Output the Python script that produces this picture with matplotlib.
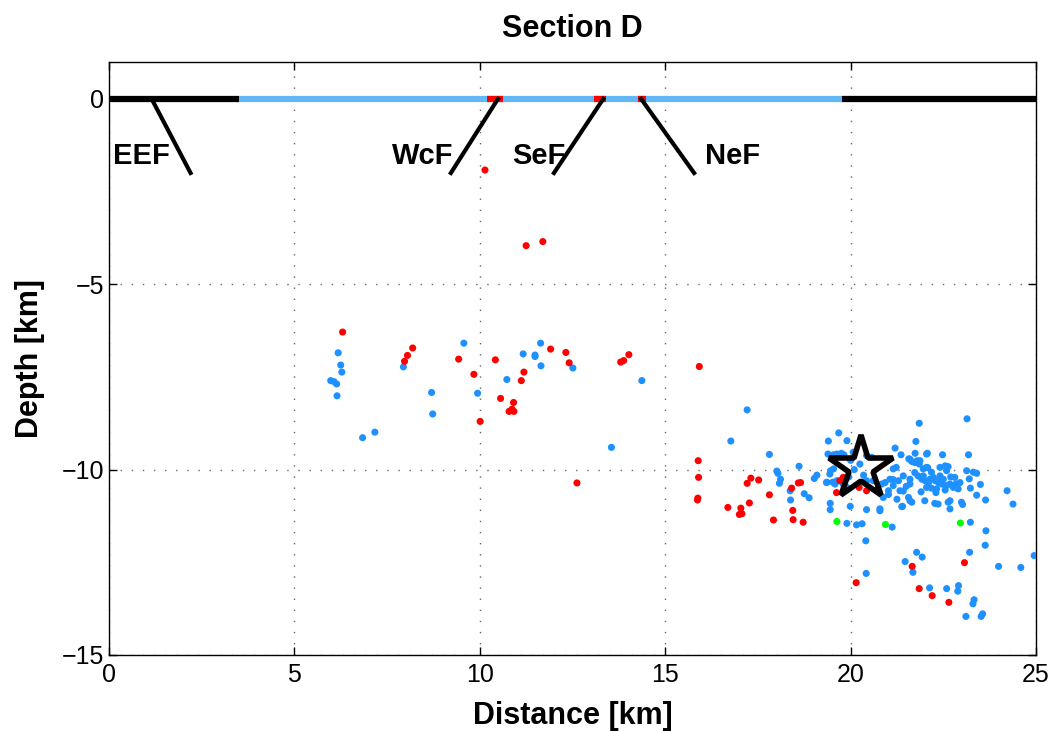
import matplotlib
matplotlib.use("Agg")
import matplotlib.pyplot as plt
import numpy as np

plt.rcParams['font.family'] = ['Liberation Sans', 'DejaVu Sans']

# surface segments along depth 0: (start, end, colour)
surf_start = [0.0, 3.5, 19.76, 10.2, 13.07, 14.27]
surf_end = [3.5, 19.76, 25.0, 10.63, 13.4, 14.48]
surf_color = ['black', '#62B8F6', 'black', 'red', 'red', 'red']

# faults: top x (depth 0), bottom x (depth -2)
fault_names = ['EEF', 'WcF', 'SeF', 'NeF']
fault_top = [1.15, 10.49, 13.33, 14.35]
fault_bot = [2.2, 9.22, 12.0, 15.78]
fault_depth = -2.0

# events (distance km, depth km)
blue_x = [6.18, 6.25, 6.28, 5.98, 6.07, 6.14, 6.15, 6.84, 7.17, 7.94, 8.70, 8.73, 9.57, 9.94,
          10.73, 11.17, 11.49, 11.49, 11.64, 11.65, 12.51, 13.55, 14.37, 17.21, 16.77,
          17.81, 18.01, 18.04, 18.11, 18.08, 18.37, 18.38, 18.61, 18.75, 18.88, 19.02, 19.09,
          19.36, 19.40, 19.68, 19.90, 19.39, 19.54, 19.63, 19.75, 19.82, 19.46, 19.54, 19.52,
          19.63, 19.80, 19.90, 19.45, 19.45, 19.99, 19.90, 20.16, 20.31, 20.43, 20.41, 20.42,
          20.79, 20.79, 21.12, 20.07, 20.43, 20.57, 20.61, 20.84, 21.02, 21.02, 20.88, 21.15,
          21.29, 21.20, 21.23, 21.36, 21.33, 21.42, 21.40, 21.57, 21.56, 21.60, 21.65, 21.74,
          21.76, 21.85, 21.80, 21.87, 21.85, 22.07, 22.08, 22.48, 23.14, 23.18,
          24.22, 24.38, 23.64, 23.40, 23.23, 23.20, 23.13, 23.31, 23.40, 22.81, 22.84, 22.90,
          22.68, 22.63, 22.68, 22.99, 23.02, 22.27, 22.36, 22.00, 22.05, 22.18, 22.23, 22.41,
          22.55, 22.63, 22.59, 21.92, 22.01, 22.10, 22.28, 22.37, 22.50, 22.46, 22.59, 22.68,
          22.05, 22.18, 22.32, 22.55, 22.77, 21.96, 22.14, 22.41,
          19.44, 19.35, 19.58, 20.43, 20.93, 21.06, 21.15, 21.60, 21.73, 22.05, 21.96, 21.73,
          21.82, 21.60, 21.60, 21.42, 21.15, 21.38, 21.65,
          20.25, 20.10, 20.35, 20.00, 19.95,
          23.65, 23.63, 23.21, 21.78, 21.93, 21.47, 21.68, 22.13, 22.59, 22.91, 22.89, 23.33,
          23.30, 23.11, 23.52, 23.56, 23.99, 24.59, 24.95, 23.23,
          21.50, 21.90, 22.30, 22.70, 23.50, 21.25, 22.95, 20.70]
blue_y = [-6.85, -7.18, -7.37, -7.60, -7.63, -7.69, -8.01, -9.14, -8.99, -7.23, -7.92, -8.50, -6.59, -7.94,
          -7.57, -6.88, -6.91, -6.95, -6.59, -7.20, -7.26, -9.40, -7.60, -8.39, -9.23,
          -9.59, -10.04, -10.10, -10.26, -10.37, -10.57, -10.82, -9.91, -10.65, -10.76, -10.24, -10.15,
          -10.34, -9.23, -9.01, -9.22, -9.58, -9.60, -9.58, -9.56, -9.60, -10.03, -9.98, -10.34,
          -10.30, -10.39, -10.48, -10.91, -11.08, -10.99, -11.45, -11.49, -11.46, -11.08, -11.92, -12.80,
          -11.06, -11.11, -11.55, -9.53, -9.62, -9.67, -10.30, -10.39, -10.57, -10.67, -10.75, -10.27,
          -10.30, -9.42, -9.94, -9.60, -10.57, -10.58, -10.99, -9.71, -10.75, -10.84, -9.78, -9.56,
          -9.24, -8.75, -9.76, -9.76, -9.85, -9.56, -9.95, -9.60, -8.63, -9.60,
          -10.57, -10.93, -10.82, -10.69, -10.50, -10.25, -10.03, -10.07, -10.10, -10.21, -10.39, -10.52,
          -10.84, -10.88, -11.06, -10.88, -10.94, -10.91, -10.93, -10.84, -9.94, -10.07, -10.21, -9.94,
          -9.90, -9.92, -10.03, -10.26, -10.30, -10.35, -10.30, -10.35, -10.26, -10.39, -10.43, -10.39,
          -10.48, -10.50, -10.52, -10.55, -10.48, -10.17, -10.26, -10.17,
          -10.12, -10.35, -10.39, -10.30, -10.35, -10.26, -9.98, -9.72, -9.81, -9.58, -9.98, -10.08,
          -10.17, -10.26, -10.39, -10.17, -10.43, -11.00, -10.88,
          -9.85, -10.00, -10.15, -9.75, -10.20,
          -11.65, -12.04, -12.23, -12.23, -12.36, -12.48, -12.77, -13.19, -13.21, -13.13, -13.28, -13.51,
          -13.62, -13.96, -13.96, -13.89, -12.61, -12.64, -12.32, -11.42,
          -10.45, -10.60, -10.62, -10.20, -10.40, -10.80, -10.35, -10.55]

red_x = [10.14, 11.25, 11.70, 6.30, 7.97, 8.05, 8.19, 9.43, 9.84, 10.01, 10.42, 10.56, 10.91, 10.87,
         10.79, 10.92, 11.12, 11.19, 11.91, 12.32, 12.41, 12.62, 13.80, 13.88, 14.02, 15.92, 15.89,
         15.90, 15.88, 15.87, 17.31, 17.21, 17.52, 17.81, 16.69, 17.04, 17.00, 17.07, 17.27, 17.92,
         18.41, 18.59, 18.65, 18.44, 18.45, 18.72, 19.80, 19.71, 19.62, 20.23, 20.43, 21.66, 20.15,
         21.85, 22.20, 22.65, 23.07]
red_y = [-1.92, -3.96, -3.85, -6.29, -7.08, -6.92, -6.72, -7.02, -7.43, -8.70, -7.04, -8.08, -8.19, -8.37,
         -8.43, -8.43, -7.60, -7.37, -6.75, -6.84, -7.12, -10.36, -7.10, -7.06, -6.90, -7.22, -9.76,
         -10.21, -10.77, -10.82, -10.23, -10.37, -10.28, -10.68, -11.02, -11.04, -11.21, -11.19, -10.90, -11.36,
         -10.50, -10.36, -10.35, -11.10, -11.35, -11.42, -10.21, -10.30, -10.62, -10.48, -10.57, -12.61, -13.05,
         -13.21, -13.40, -13.58, -12.51]

green_x = [19.63, 20.94, 22.96]
green_y = [-11.40, -11.48, -11.44]

mainshock_x = [20.27]
mainshock_y = [-9.97]

fig = plt.figure(figsize=(10.55, 7.31), dpi=100)
ax = fig.add_axes([0.1033, 0.104, 0.8787, 0.8115])

for s, e, c in zip(surf_start, surf_end, surf_color):
    ax.plot([s, e], [0, 0], color=c, lw=4.5, solid_capstyle='butt', zorder=3)

for name, xt, xb in zip(fault_names, fault_top, fault_bot):
    ax.plot([xt, xb], [0, fault_depth], color='black', lw=3, zorder=3)

ax.scatter(blue_x, blue_y, s=26, color='#1E90FF', edgecolors='none', zorder=4)
ax.scatter(red_x, red_y, s=26, color='#FF0000', edgecolors='none', zorder=4)
ax.scatter(green_x, green_y, s=26, color='#00FF00', edgecolors='none', zorder=4)
ax.plot(mainshock_x, mainshock_y, marker='*', markersize=48, mfc='none', mec='black',
        mew=4, ls='none', zorder=5)

lab = dict(fontsize=21, fontweight='bold', va='center', zorder=6)
ax.text(0.1, -1.55, 'EEF', ha='left', **lab)
ax.text(9.3, -1.55, 'WcF', ha='right', **lab)
ax.text(10.87, -1.55, 'SeF', ha='left', **lab)
ax.text(16.07, -1.55, 'NeF', ha='left', **lab)

ax.set_xlim(0, 25)
ax.set_ylim(-15, 1)
ax.set_xticks([0, 5, 10, 15, 20, 25])
ax.set_yticks([-15, -10, -5, 0])
ax.set_yticklabels(['\u221215', '\u221210', '\u22125', '0'])
ax.tick_params(direction='in', top=True, right=True, labelsize=18, length=6, width=1)
ax.tick_params(axis='x', pad=6)
ax.grid(True, ls=(0, (1, 7)), color='#666666', lw=1)
for sp in ax.spines.values():
    sp.set_linewidth(1)

ax.set_xlabel('Distance [km]', fontsize=22, fontweight='bold', labelpad=10)
ax.set_ylabel('Depth [km]', fontsize=22, fontweight='bold', labelpad=12)
ax.set_title('Section D', fontsize=22, fontweight='bold', pad=18)

fig.savefig('out.png', dpi=100)
